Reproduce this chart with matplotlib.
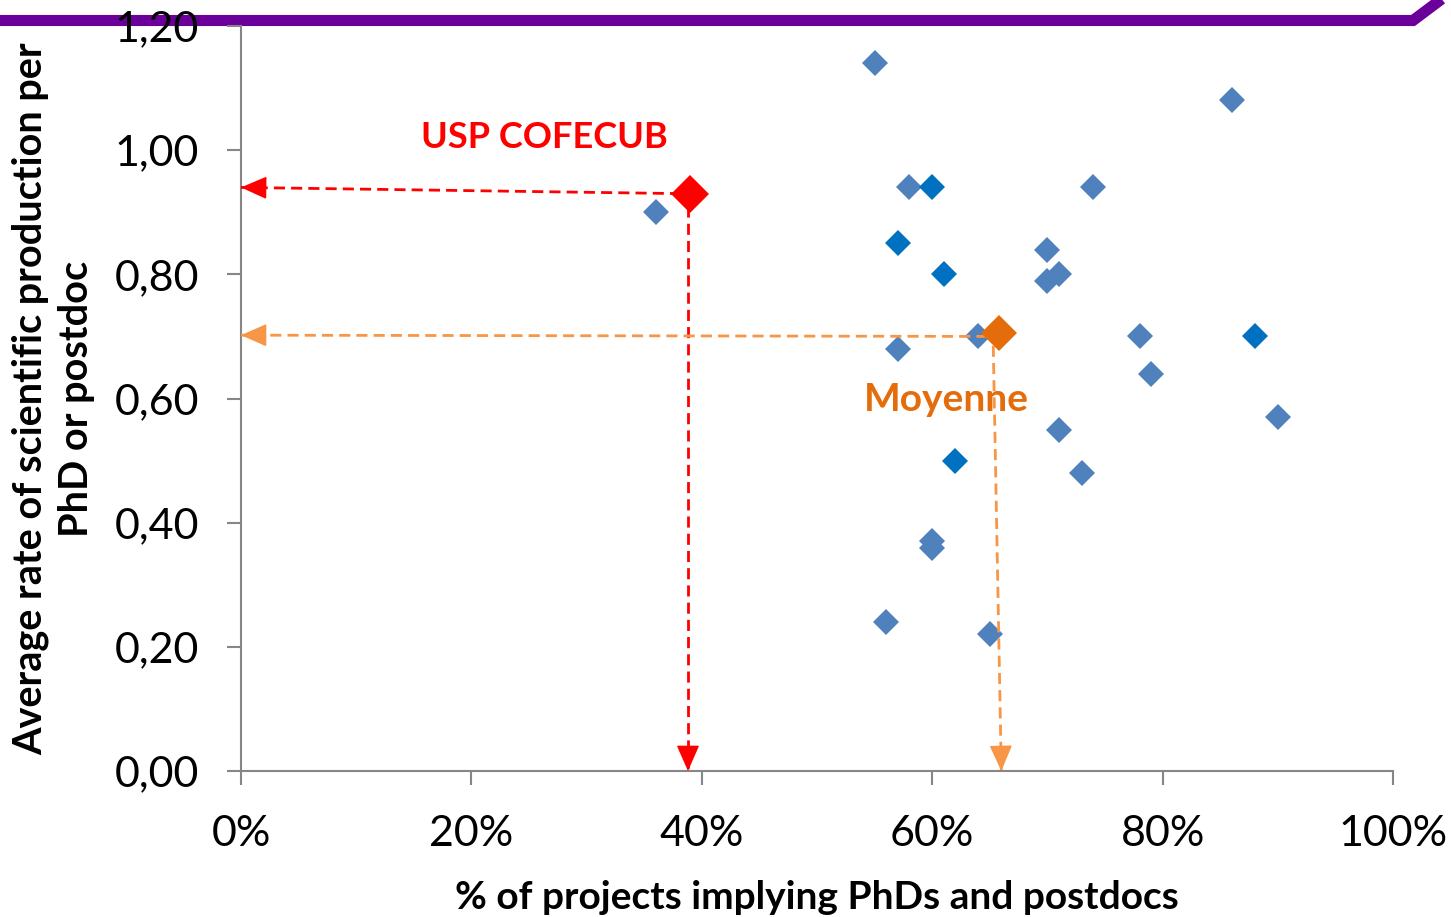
import matplotlib
matplotlib.use("Agg")
import matplotlib.pyplot as plt
from matplotlib.lines import Line2D
from matplotlib.ticker import FuncFormatter

plt.rcParams['font.family'] = ['Lato', 'DejaVu Sans']

# data (x in %, y = average rate)
light_x = [36, 55, 58, 57, 64, 70, 70, 71, 74, 86, 78, 79, 90, 71, 73, 60, 60, 56, 65]
light_y = [0.90, 1.14, 0.94, 0.68, 0.70, 0.84, 0.79, 0.80, 0.94, 1.08, 0.70, 0.64, 0.57, 0.55, 0.48, 0.37, 0.36, 0.24, 0.22]
dark_x = [60, 57, 61, 88, 62]
dark_y = [0.94, 0.85, 0.80, 0.70, 0.50]
usp_x, usp_y = 39, 0.93
moy_x, moy_y = 65.8, 0.705
usp_h_end = (0, 0.94)
usp_v_end = (38.8, 0)
moy_h_end = (0, 0.702)
moy_v_end = (66.0, 0)
usp_label = "USP COFECUB"
moy_label = "Moyenne"
x_ticks = [0, 20, 40, 60, 80, 100]
y_ticks = [0.0, 0.2, 0.4, 0.6, 0.8, 1.0, 1.2]
xlabel = "% of projects implying PhDs and postdocs"
ylabel = "Average rate of scientific production per\nPhD or postdoc"

W, H = 1451, 917
fig = plt.figure(figsize=(W / 100, H / 100), dpi=100)
ax = fig.add_axes([241 / W, 1 - 771 / H, (1393 - 241) / W, (771 - 26) / H])
ax.patch.set_visible(False)

ax.set_xlim(0, 100)
ax.set_ylim(0, 1.2)

ax.plot(light_x, light_y, linestyle='none', marker='D', ms=13.2, mew=0, color='#4F81BD', zorder=3)
ax.plot(dark_x, dark_y, linestyle='none', marker='D', ms=13.2, mew=0, color='#0070C0', zorder=3)

def arrow(start, end, color):
    # dashed shaft
    ax.plot([start[0], end[0]], [start[1], end[1]], color=color, lw=2,
            ls=(0, (4, 2.2)), zorder=4, clip_on=False)
    # solid head
    fx = start[0] + (end[0] - start[0]) * 0.97
    fy = start[1] + (end[1] - start[1]) * 0.97
    ax.annotate('', xy=end, xytext=(fx, fy),
                arrowprops=dict(arrowstyle='-|>,head_length=0.75,head_width=0.33', color=color,
                                lw=1, shrinkA=0, shrinkB=0, mutation_scale=22),
                annotation_clip=False, zorder=4)

arrow((usp_x - 0.8, usp_y), usp_h_end, '#FF0000')
arrow((usp_x - 0.2, usp_y - 0.02), usp_v_end, '#FF0000')
arrow((moy_x - 1.0, moy_y - 0.005), moy_h_end, '#F79646')
arrow((moy_x - 0.5, moy_y - 0.02), moy_v_end, '#F79646')

ax.plot([usp_x], [usp_y], linestyle='none', marker='D', ms=19.5, mew=0, color='#FF0000', zorder=5)
ax.plot([moy_x], [moy_y], linestyle='none', marker='D', ms=18, mew=0, color='#E46C0A', zorder=5)

ax.text(26.3, 1.02, usp_label, color='#FF0000', fontsize=26, fontweight='bold', ha='center', va='center')
ax.text(61.2, 0.598, moy_label, color='#E46C0A', fontsize=28, fontweight='bold', ha='center', va='center')

for s in ['top', 'right']:
    ax.spines[s].set_visible(False)
for s in ['left', 'bottom']:
    ax.spines[s].set_color('#868686')
    ax.spines[s].set_linewidth(1.5)

ax.set_xticks(x_ticks)
ax.set_yticks(y_ticks)
ax.xaxis.set_major_formatter(FuncFormatter(lambda v, p: f"{int(round(v))}%"))
ax.yaxis.set_major_formatter(FuncFormatter(lambda v, p: f"{v:.2f}".replace('.', ',')))
ax.tick_params(axis='both', direction='out', length=10, width=1.5, color='#868686',
               labelsize=31, labelcolor='black')
ax.tick_params(axis='x', pad=22)
ax.tick_params(axis='y', pad=20)

ax.set_xlabel(xlabel, fontsize=28, fontweight='bold', va='center')
ax.xaxis.set_label_coords(0.5, (771 - 897) / 745)
ax.set_ylabel(ylabel, fontsize=28.5, fontweight='bold', linespacing=1.3, va='center')
ax.yaxis.set_label_coords((53 - 241) / 1152, 0.5)

# purple decorative line at top (behind the axes text)
fig.add_artist(Line2D([0, 1413 / W, 1.0], [1 - 20.5 / H, 1 - 20.5 / H, 1 + 8 / H],
                      transform=fig.transFigure, color='#6A0099', lw=8,
                      solid_joinstyle='miter', solid_capstyle='butt', zorder=-1))

fig.savefig('out.png', dpi=100)
